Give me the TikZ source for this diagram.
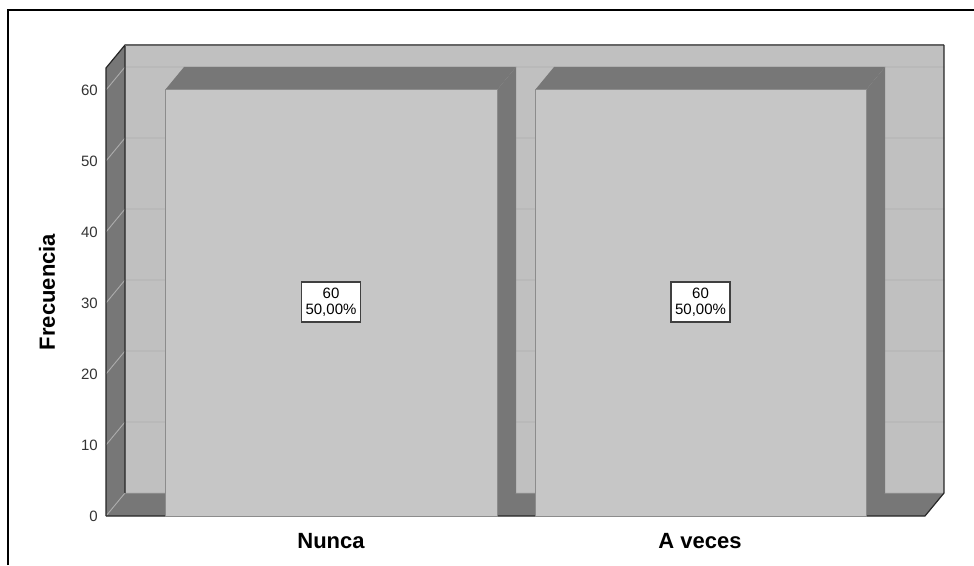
\documentclass[tikz,border=0pt]{standalone}
\usepackage{fontspec}
\setmainfont{Liberation Sans}
\usepackage{tikz}
\usetikzlibrary{calc}
\definecolor{wallgray}{HTML}{C0C0C0}
\definecolor{facegray}{HTML}{C6C6C6}
\definecolor{sidegray}{HTML}{777777}
\definecolor{gridgray}{HTML}{ADADAD}
\definecolor{edgegray}{HTML}{8C8C8C}
\tikzstyle{backwall}=[fill=wallgray,draw=none]
\tikzstyle{darkpanel}=[fill=sidegray,draw=none]
\tikzstyle{gridline}=[draw=gridgray,line width=0.9pt]
\tikzstyle{edge}=[draw=black!85,line width=1.2pt,line join=round]
\tikzstyle{barfront}=[fill=facegray,draw=edgegray,line width=1pt]
\tikzstyle{valuebox}=[rectangle,draw=black!75,fill=white,line width=1.3pt,align=center,inner sep=2pt,minimum width=59pt,minimum height=40pt,font=\fontsize{15}{16}\selectfont]
\tikzstyle{ticklabel}=[anchor=east,inner sep=0pt,text=black!80,font=\fontsize{15}{16}\selectfont]
\tikzstyle{catlabel}=[font=\bfseries\fontsize{22}{24}\selectfont]

\begin{document}
\begin{tikzpicture}[x=1pt,y=1pt]
\def \dx {19};
\def \dy {23};
\def \unit {7.1};
\def \base {49};
\def \xl {106};
\def \xr {925};
\def \ytop {520};
\def \barh {60};

\useasboundingbox (0,0) rectangle (974,565);

% back wall, left wall and floor
\fill[backwall] (\xl+\dx,\base+\dy) rectangle (\xr+\dx,\ytop);
\fill[darkpanel] (\xl,\base) -- (\xl+\dx,\base+\dy) -- (\xl+\dx,\ytop) -- (\xl,\ytop-\dy) -- cycle;
\fill[darkpanel] (\xl,\base) -- (\xr,\base) -- (\xr+\dx,\base+\dy) -- (\xl+\dx,\base+\dy) -- cycle;

\foreach \v in {10,20,...,60} {
	\draw[gridline] (\xl,\base+\v*\unit) -- ++(\dx,\dy) -- (\xr+\dx,\base+\v*\unit+\dy);
	\node[ticklabel] (t\v) at (98,\base+\v*\unit) {\v};
};
\node[ticklabel] (t0) at (98,\base) {0};
\draw[gridline] (\xl,\base) -- ++(\dx,\dy) -- (\xr+\dx,\base+\dy);

% edges
\draw[edge] (\xl,\base) -- (\xl,\ytop-\dy) -- (\xl+\dx,\ytop) -- (\xl+\dx,\base+\dy);
\draw[draw=black!60,line width=1.2pt] (\xl+\dx,\ytop) -- (\xr+\dx,\ytop);
\draw[edge] (\xr+\dx,\ytop) -- (\xr+\dx,\base+\dy) -- (\xr,\base) -- (\xl,\base);

% bars
\foreach \i/\xa/\xb in {1/165/497,2/535/866} {
	\fill[darkpanel] (\xa,\base+\barh*\unit) -- ++(\dx,\dy) -- (\xb+\dx,\base+\barh*\unit+\dy) -- (\xb,\base+\barh*\unit) -- cycle;
	\fill[darkpanel] (\xb,\base) -- ++(\dx,\dy) -- (\xb+\dx,\base+\barh*\unit+\dy) -- (\xb,\base+\barh*\unit) -- cycle;
	\draw[barfront] (\xa,\base) rectangle (\xb,\base+\barh*\unit);
	\node[valuebox] (val\i) at ({(\xa+\xb)/2},263) {60\\50,00\%};
};

\node[catlabel] (cat1) at (331,24) {Nunca};
\node[catlabel] (cat2) at (700,24) {A veces};
\node[catlabel,rotate=90] (ytitle) at (47,273) {Frecuencia};

% frame
\draw[line width=2pt] (8,0) -- (8,555) -- (974,555);
\end{tikzpicture}
\end{document}
